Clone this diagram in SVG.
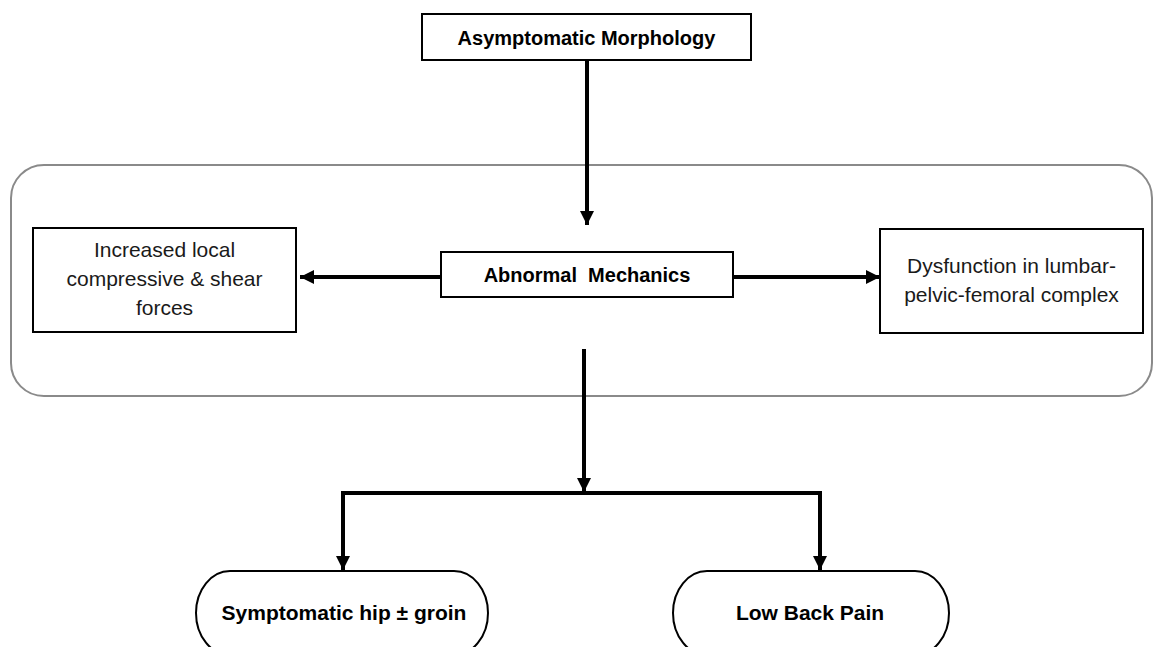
<svg xmlns="http://www.w3.org/2000/svg" width="1154" height="647" viewBox="0 0 1154 647">
<style>
.box{fill:#fff;stroke:#000;stroke-width:2}
.t{font-family:"Liberation Sans",Arial,sans-serif;font-size:21px;fill:#1a1a1a;text-anchor:middle}
.b{font-family:"Liberation Sans",Arial,sans-serif;font-size:20px;font-weight:bold;fill:#000;text-anchor:middle}
.ln{stroke:#000;stroke-width:4;fill:none}
</style>
<defs>
<marker id="ah" markerUnits="userSpaceOnUse" markerWidth="16" markerHeight="16" viewBox="0 0 16 16" refX="14" refY="8" orient="auto">
<path d="M0,1 L14,8 L0,15 Z" fill="#000"/>
</marker>
</defs>
<rect id="container" x="11" y="165" width="1141" height="231" rx="33" ry="33" fill="none" stroke="#8a8a8a" stroke-width="2"/>
<g id="connectors">
<line class="ln" x1="587" y1="60" x2="587" y2="225" marker-end="url(#ah)"/>
<line class="ln" x1="441" y1="277" x2="300" y2="277" marker-end="url(#ah)"/>
<line class="ln" x1="733" y1="277" x2="880" y2="277" marker-end="url(#ah)"/>
<line class="ln" x1="584" y1="349" x2="584" y2="492" marker-end="url(#ah)"/>
<polyline class="ln" points="343,570 343,493 820,493 820,570" marker-end="url(#ah)"/>
<line class="ln" x1="343" y1="495" x2="343" y2="570" marker-end="url(#ah)"/>
</g>
<g id="n-asym">
<rect class="box" x="422" y="14" width="329" height="46"/>
<text class="b" x="586.5" y="45">Asymptomatic Morphology</text>
</g>
<g id="n-abnormal">
<rect class="box" x="441" y="252" width="292" height="45"/>
<text class="b" x="587" y="282" xml:space="preserve">Abnormal  Mechanics</text>
</g>
<g id="n-increased">
<rect class="box" x="33" y="228" width="263" height="104"/>
<text class="t" x="164.5" y="257">Increased local</text>
<text class="t" x="164.5" y="286">compressive &amp; shear</text>
<text class="t" x="164.5" y="315">forces</text>
</g>
<g id="n-dysfunction">
<rect class="box" x="880" y="229" width="263" height="104"/>
<text class="t" x="1011.5" y="273">Dysfunction in lumbar-</text>
<text class="t" x="1011.5" y="302">pelvic-femoral complex</text>
</g>
<g id="n-hip">
<rect class="box" x="196" y="571" width="292" height="84" rx="34" ry="42"/>
<text class="b" x="344" y="620" style="font-size:21px">Symptomatic hip ± groin</text>
</g>
<g id="n-lbp">
<rect class="box" x="673" y="571" width="276" height="84" rx="34" ry="42"/>
<text class="b" x="810" y="620" style="font-size:21px">Low Back Pain</text>
</g>
</svg>
